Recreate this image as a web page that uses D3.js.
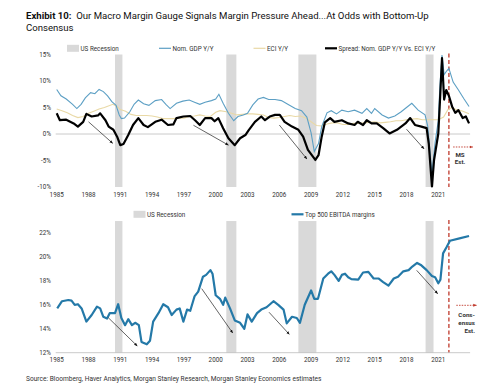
<!DOCTYPE html>
<html>
<head>
<meta charset="utf-8">
<script src="https://cdn.jsdelivr.net/npm/d3@7"></script>
<style>
  body { margin: 0; background: #fff; }
  svg { font-family: Roboto, "Liberation Sans", Arial, sans-serif; }
</style>
</head>
<body>
<div id="chart"></div>
<script>
// ---- data: [year, value] ----
var recessions = [[1990.5, 1991.2], [2001.0, 2001.95], [2007.8, 2009.5], [2019.8, 2020.55]];
var yearTicks = [1985, 1988, 1991, 1994, 1997, 2000, 2003, 2006, 2009, 2012, 2015, 2018, 2021];
var topTicks = [15, 10, 5, 0, -5, -10];
var bottomTicks = [22, 20, 18, 16, 14, 12];
var estimateYear = 2022.0;

var nomGdp = [[1985.0,8.4],[1985.4,7.2],[1985.9,6.6],[1986.5,5.6],[1986.9,4.8],[1987.3,5.6],[1987.7,6.8],
  [1988.2,7.8],[1988.6,7.6],[1989.0,8.4],[1989.4,8.0],[1989.8,7.2],[1990.2,6.1],[1990.6,5.4],[1990.9,3.6],
  [1991.1,2.9],[1991.4,3.0],[1991.9,4.2],[1992.3,5.6],[1992.7,6.4],[1993.2,5.7],[1993.7,5.4],[1994.3,6.3],
  [1994.9,6.5],[1995.3,5.6],[1995.7,4.8],[1996.3,5.8],[1996.9,6.2],[1997.5,6.4],[1998.0,6.0],[1998.5,5.6],
  [1999.0,6.0],[1999.6,6.3],[2000.0,6.6],[2000.3,7.5],[2000.7,5.8],[2001.2,3.9],[2001.7,2.5],[2002.1,3.3],
  [2002.6,3.6],[2003.0,3.9],[2003.5,5.5],[2004.0,6.6],[2004.5,6.9],[2005.0,6.5],[2005.6,6.5],[2006.2,6.3],
  [2006.8,5.6],[2007.5,4.8],[2008.1,4.4],[2008.6,3.2],[2009.0,0.2],[2009.3,-3.3],[2009.7,-1.8],[2010.0,1.4],
  [2010.5,4.0],[2010.9,4.4],[2011.4,3.8],[2011.9,4.5],[2012.5,4.2],[2013.1,4.5],[2013.8,3.9],[2014.25,4.8],
  [2014.7,3.9],[2015.0,4.8],[2015.7,3.6],[2016.3,3.0],[2016.9,3.4],[2017.5,4.2],[2018.0,5.0],[2018.5,5.8],
  [2019.1,4.5],[2019.75,3.6],[2020.0,1.5],[2020.4,-7.5],[2020.7,-1.5],[2021.0,2.5],[2021.15,9.0],
  [2021.35,14.9],[2021.55,11.2],[2021.75,11.8],[2022.0,12.4],[2022.4,9.8],[2022.9,8.3],[2023.4,6.7],[2023.9,5.2]];

var eci = [[1985.0,4.7],[1985.5,4.4],[1986.0,4.0],[1986.5,3.5],[1987.0,3.1],[1987.5,3.3],[1988.0,3.9],
  [1988.5,4.3],[1989.0,4.7],[1989.5,5.0],[1990.3,5.6],[1990.7,5.2],[1991.0,4.6],[1991.5,4.3],[1992.0,3.7],
  [1992.5,3.5],[1993.0,3.5],[1993.5,3.5],[1994.0,3.4],[1994.5,3.2],[1995.0,2.9],[1995.5,2.9],[1996.0,2.9],
  [1996.5,3.0],[1997.0,3.0],[1997.5,3.3],[1998.0,3.4],[1998.5,3.6],[1999.0,3.4],[1999.5,3.3],[2000.0,4.1],
  [2000.4,4.4],[2001.0,4.2],[2001.5,3.9],[2002.0,3.6],[2002.5,3.7],[2003.0,3.8],[2003.5,3.8],[2004.0,3.7],
  [2004.5,3.6],[2005.0,3.1],[2005.5,3.0],[2006.0,3.1],[2006.5,3.3],[2007.0,3.5],[2007.5,3.3],[2008.0,3.4],
  [2008.5,3.0],[2009.0,2.3],[2009.5,1.6],[2010.0,1.5],[2010.5,1.9],[2011.0,2.1],[2011.5,2.1],[2012.0,1.8],
  [2012.5,1.8],[2013.0,2.0],[2013.5,2.0],[2014.0,2.1],[2014.5,2.2],[2015.0,2.3],[2015.5,2.1],[2016.0,2.2],
  [2016.5,2.3],[2017.0,2.5],[2017.5,2.5],[2018.0,2.7],[2018.5,2.8],[2019.0,2.9],[2019.5,2.7],[2020.0,2.7],
  [2020.5,2.7],[2021.0,2.7],[2021.5,3.2],[2021.9,4.6],[2022.3,5.0],[2022.7,4.6],[2023.2,4.4],[2023.9,3.8]];

var spread = [[1985.0,3.9],[1985.3,2.6],[1985.9,2.7],[1986.6,2.0],[1987.0,1.4],[1987.5,2.3],[1987.8,3.8],
  [1988.3,3.3],[1988.9,3.5],[1989.1,3.9],[1989.6,2.6],[1989.9,1.4],[1990.35,0.8],[1990.7,-0.5],[1991.0,-2.1],
  [1991.3,-1.9],[1991.75,-0.2],[1992.2,1.7],[1992.7,3.0],[1993.2,1.7],[1993.6,1.3],[1994.3,2.3],[1994.9,2.7],
  [1995.5,1.7],[1996.0,1.8],[1996.3,3.0],[1996.95,3.3],[1997.6,3.4],[1998.05,2.6],[1998.5,1.7],[1999.0,3.0],
  [1999.6,3.0],[1999.9,2.4],[2000.25,3.0],[2000.7,1.1],[2001.2,-0.8],[2001.8,-2.1],[2002.3,-0.8],[2002.8,-0.2],
  [2003.1,0.7],[2003.7,2.3],[2004.3,3.3],[2004.65,2.6],[2005.1,3.3],[2005.6,3.6],[2006.05,3.6],[2006.5,2.3],
  [2007.2,1.4],[2007.8,0.8],[2008.25,-0.5],[2008.7,-3.0],[2009.4,-4.9],[2009.7,-4.0],[2010.0,-0.5],
  [2010.3,2.2],[2010.8,3.0],[2011.2,2.3],[2011.9,2.6],[2012.5,2.0],[2013.1,1.7],[2013.4,2.3],[2013.9,1.7],
  [2014.25,2.6],[2014.7,2.0],[2015.2,2.0],[2015.8,1.1],[2016.4,0.1],[2017.1,0.8],[2017.9,2.0],[2018.35,3.0],
  [2018.8,1.7],[2019.4,1.4],[2019.9,1.1],[2020.1,-1.8],[2020.4,-9.9],[2020.6,-4.9],[2021.0,0.1],
  [2021.15,6.0],[2021.35,14.3],[2021.55,6.5],[2021.75,8.3],[2022.0,7.2],[2022.3,5.2],[2022.6,4.0],
  [2022.9,4.5],[2023.3,3.0],[2023.6,3.3],[2023.9,2.0]];

var ebitda = [[1985.05,15.7],[1985.5,16.3],[1986.1,16.4],[1986.4,16.35],[1986.7,16.0],[1987.0,16.05],
  [1987.35,15.7],[1987.8,14.6],[1988.3,15.15],[1988.8,15.85],[1989.1,15.7],[1989.4,15.0],[1989.75,14.85],
  [1990.0,15.3],[1990.5,15.3],[1990.8,16.05],[1991.1,14.9],[1991.45,14.3],[1991.75,14.8],[1992.1,14.3],
  [1992.4,14.5],[1992.75,14.3],[1993.0,12.9],[1993.5,12.7],[1993.8,13.0],[1994.1,14.6],[1994.6,15.3],
  [1995.05,16.05],[1995.5,15.8],[1995.85,15.15],[1996.3,15.6],[1996.6,15.7],[1996.95,14.6],[1997.3,15.6],
  [1997.6,15.5],[1998.0,16.7],[1998.35,17.1],[1998.8,18.35],[1999.1,18.5],[1999.5,18.9],[1999.7,18.6],
  [2000.0,16.8],[2000.4,16.5],[2000.7,16.0],[2000.9,16.6],[2001.35,15.7],[2001.8,14.7],[2002.3,14.5],
  [2002.7,14.0],[2003.0,15.2],[2003.4,14.6],[2003.9,15.3],[2004.3,15.6],[2004.8,15.8],[2005.45,16.3],
  [2005.9,16.0],[2006.4,15.6],[2006.7,14.45],[2007.2,15.0],[2007.65,14.9],[2007.95,14.5],[2008.4,16.0],
  [2009.0,17.2],[2009.3,16.5],[2009.65,16.5],[2010.15,18.2],[2010.6,18.6],[2010.9,18.8],[2011.2,18.5],
  [2011.6,18.0],[2011.9,18.5],[2012.2,18.6],[2012.5,18.3],[2012.8,18.15],[2013.45,18.1],[2013.9,18.7],
  [2014.4,18.75],[2014.9,18.2],[2015.35,18.2],[2015.8,17.9],[2016.3,17.6],[2016.8,18.2],[2017.2,18.35],
  [2017.7,18.8],[2018.2,18.9],[2018.55,19.2],[2019.0,19.5],[2019.4,19.3],[2019.9,18.9],[2020.4,18.4],
  [2020.7,18.3],[2021.0,17.8],[2021.2,18.1],[2021.45,20.3],[2021.8,20.85],[2022.1,21.35],[2023.0,21.55],
  [2023.9,21.75]];

// annotation arrows [[x0,y0],[x1,y1]] in data units
var topArrows = [[[1988.0,2.3],[1990.28,-1.75]], [[1997.9,1.65],[2001.2,-2.1]],
  [[2006.0,1.7],[2008.6,-4.7]], [[2018.0,0.9],[2019.65,-2.8]]];
var bottomArrows = [[[1989.87,14.92],[1992.6,12.56]], [[1998.68,17.35],[2001.6,13.65]],
  [[2005.03,15.38],[2006.94,13.54]], [[2018.96,18.88],[2020.94,16.93]]];

// ---- layout ----
var W = 500, H = 392;
var svg = d3.select("#chart").append("svg").attr("width", W).attr("height", H);
svg.append("rect").attr("width", W).attr("height", H).attr("fill", "#fff");

var defs = svg.append("defs");
defs.append("marker").attr("id", "headBlack").attr("viewBox", "0 0 10 10")
  .attr("refX", 9).attr("refY", 5).attr("markerWidth", 5).attr("markerHeight", 5)
  .attr("orient", "auto").append("path").attr("d", "M0,1L10,5L0,9Z").attr("fill", "#111");
defs.append("marker").attr("id", "headRed").attr("viewBox", "0 0 10 10")
  .attr("refX", 9).attr("refY", 5).attr("markerWidth", 4).attr("markerHeight", 4)
  .attr("orient", "auto").append("path").attr("d", "M0,1L10,5L0,9Z").attr("fill", "#c0392b");

var x = d3.scaleLinear().domain([1985, 2024]).range([56.7, 470.1]);
var yTop = d3.scaleLinear().domain([-10, 15]).range([187, 54.5]);
var yBot = d3.scaleLinear().domain([12, 22]).range([352.7, 233]);

var gdpColor = "#5c9fc4", eciColor = "#e9d9a6", ebitdaColor = "#2479a8", recColor = "#d9d9d9";
var redColor = "#c0392b";

// title
var title = svg.append("text").attr("x", 26).attr("y", 18.5).attr("font-size", 9.6).attr("fill", "#111");
title.append("tspan").attr("font-weight", "bold").text("Exhibit 10:");
title.append("tspan").text("\u00a0 Our Macro Margin Gauge Signals Margin Pressure Ahead...At Odds with Bottom-Up");
svg.append("text").attr("x", 26).attr("y", 30.8).attr("font-size", 9.6).attr("fill", "#111").text("Consensus");

function panel(y, yMin, yMax, ticks, fmt, labelY) {
  var g = svg.append("g");
  // recession shading
  g.selectAll(".rec").data(recessions).enter().append("rect")
    .attr("x", function(d) { return x(d[0]); })
    .attr("width", function(d) { return x(d[1]) - x(d[0]); })
    .attr("y", y(yMax)).attr("height", y(yMin) - y(yMax))
    .attr("fill", recColor);
  // y tick labels
  g.selectAll(".yt").data(ticks).enter().append("text")
    .attr("x", 51).attr("y", function(d) { return y(d) + 2.2; })
    .attr("text-anchor", "end").attr("font-size", 6.3).attr("fill", "#333")
    .text(fmt);
  // x tick labels
  g.selectAll(".xt").data(yearTicks).enter().append("text")
    .attr("x", function(d) { return x(d); }).attr("y", labelY)
    .attr("text-anchor", "middle").attr("font-size", 6.3).attr("fill", "#333")
    .text(function(d) { return d; });
  // red estimate line
  g.append("line").attr("x1", x(estimateYear)).attr("x2", x(estimateYear))
    .attr("y1", y(yMax) - 1).attr("y2", y(yMin))
    .attr("stroke", redColor).attr("stroke-width", 1.3).attr("stroke-dasharray", "4,2.5");
  return g;
}

function arrows(g, y, list) {
  g.selectAll(".arr").data(list).enter().append("line")
    .attr("x1", function(d) { return x(d[0][0]); }).attr("y1", function(d) { return y(d[0][1]); })
    .attr("x2", function(d) { return x(d[1][0]); }).attr("y2", function(d) { return y(d[1][1]); })
    .attr("stroke", "#222").attr("stroke-width", 0.7).attr("marker-end", "url(#headBlack)");
}

function legendItem(x0, ly, type, color, label) {
  if (type === "rect") {
    svg.append("rect").attr("x", x0).attr("y", ly - 3.5).attr("width", 12).attr("height", 7).attr("fill", color);
  } else {
    svg.append("line").attr("x1", x0).attr("x2", x0 + 12).attr("y1", ly).attr("y2", ly)
      .attr("stroke", color).attr("stroke-width", type === "thick" ? 2.2 : 1.2);
  }
  svg.append("text").attr("x", x0 + 13.5).attr("y", ly + 2.2).attr("font-size", 6.3).attr("fill", "#333").text(label);
}

// ---- top panel ----
var gTop = panel(yTop, -10, 15, topTicks, function(d) { return d + "%"; }, 197.3);
gTop.append("line").attr("x1", x(1985) - 1).attr("x2", x(2024)).attr("y1", yTop(0)).attr("y2", yTop(0))
  .attr("stroke", "#bdbdbd").attr("stroke-width", 0.8);

var lineTop = d3.line().x(function(d) { return x(d[0]); }).y(function(d) { return yTop(d[1]); });
gTop.append("path").datum(eci).attr("d", lineTop).attr("fill", "none").attr("stroke", eciColor).attr("stroke-width", 1.1);
gTop.append("path").datum(nomGdp).attr("d", lineTop).attr("fill", "none").attr("stroke", gdpColor).attr("stroke-width", 1.1);
gTop.append("path").datum(spread).attr("d", lineTop).attr("fill", "none").attr("stroke", "#000")
  .attr("stroke-width", 2.2).attr("stroke-linejoin", "round");
arrows(gTop, yTop, topArrows);

gTop.append("line").attr("x1", x(2022.4)).attr("x2", x(2024.25)).attr("y1", yTop(-2.45)).attr("y2", yTop(-2.45))
  .attr("stroke", redColor).attr("stroke-width", 0.9).attr("stroke-dasharray", "1.5,1.2")
  .attr("marker-end", "url(#headRed)");
gTop.append("text").attr("x", x(2023.05)).attr("y", yTop(-4.35)).attr("text-anchor", "middle")
  .attr("font-size", 6.2).attr("font-weight", "bold").attr("fill", "#333").text("MS");
gTop.append("text").attr("x", x(2023.05)).attr("y", yTop(-5.75)).attr("text-anchor", "middle")
  .attr("font-size", 6.2).attr("font-weight", "bold").attr("fill", "#333").text("Est.");

legendItem(67, 48.3, "rect", recColor, "US Recession");
legendItem(159, 48.3, "line", gdpColor, "Nom. GDP Y/Y");
legendItem(253.5, 48.3, "line", eciColor, "ECI Y/Y");
legendItem(325, 48.3, "thick", "#000", "Spread: Nom. GDP Y/Y Vs. ECI Y/Y");

// ---- bottom panel ----
var gBot = panel(yBot, 12, 23, bottomTicks, function(d) { return d + "%"; }, 362);
gBot.append("line").attr("x1", x(1985) - 1).attr("x2", x(2024)).attr("y1", yBot(12)).attr("y2", yBot(12))
  .attr("stroke", "#bdbdbd").attr("stroke-width", 0.8);
var lineBot = d3.line().x(function(d) { return x(d[0]); }).y(function(d) { return yBot(d[1]); });
gBot.append("path").datum(ebitda).attr("d", lineBot).attr("fill", "none").attr("stroke", ebitdaColor)
  .attr("stroke-width", 2.2).attr("stroke-linejoin", "round");
arrows(gBot, yBot, bottomArrows);

gBot.append("line").attr("x1", x(2022.7)).attr("x2", x(2024.6)).attr("y1", yBot(15.96)).attr("y2", yBot(15.96))
  .attr("stroke", redColor).attr("stroke-width", 0.9).attr("stroke-dasharray", "1.5,1.2")
  .attr("marker-end", "url(#headRed)");
["Cons-", "ensus", "Est."].forEach(function(t, i) {
  gBot.append("text").attr("x", 475).attr("y", 316.5 + i * 8).attr("text-anchor", "end")
    .attr("font-size", 6.2).attr("font-weight", "bold").attr("fill", "#333").text(t);
});

legendItem(133.5, 214.3, "rect", recColor, "US Recession");
legendItem(291.5, 214.3, "thick", ebitdaColor, "Top 500 EBITDA margins");

// source
svg.append("text").attr("x", 26).attr("y", 380.5).attr("font-size", 6.6).attr("fill", "#333")
  .text("Source: Bloomberg, Haver Analytics, Morgan Stanley Research, Morgan Stanley Economics estimates");
</script>
</body>
</html>
